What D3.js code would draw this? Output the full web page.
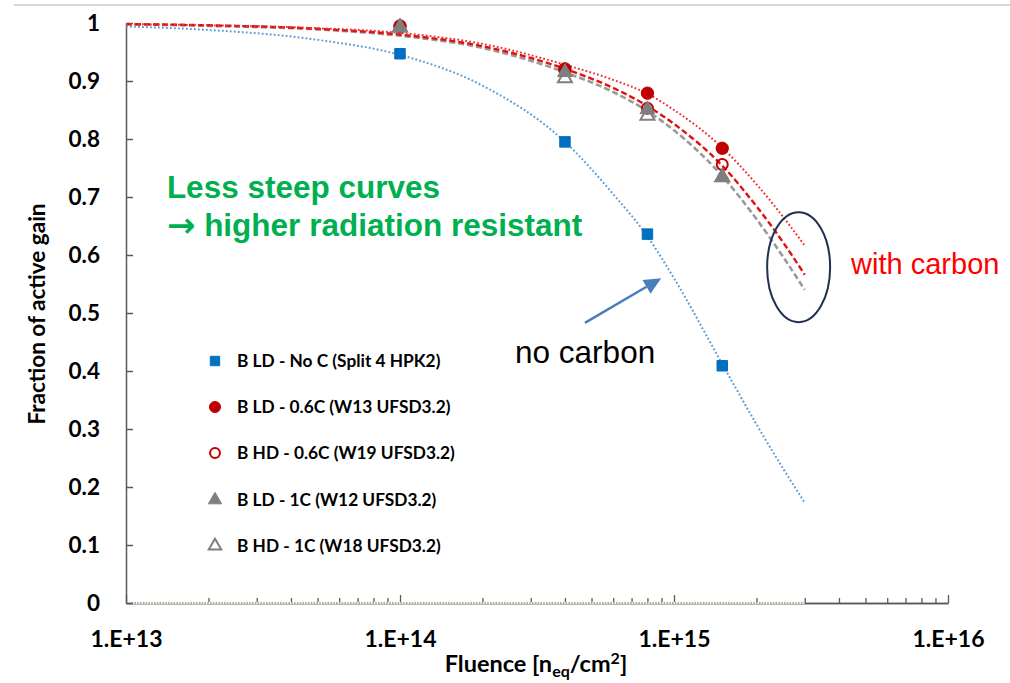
<!DOCTYPE html>
<html>
<head>
<meta charset="utf-8">
<script src="https://cdn.jsdelivr.net/npm/d3@7"></script>
<style>
  html, body { margin: 0; padding: 0; background: #fff; }
  svg { display: block; }
</style>
</head>
<body>
<svg id="chart" width="1010" height="683"></svg>
<script>
// Fluence values where samples were measured
const fluence = [1e14, 4e14, 8e14, 1.5e15];

// Fraction of active gain for each sample
const noC_LD     = [0.947, 0.795, 0.636, 0.409];   // B LD - No C (Split 4 HPK2)
const c06_LD     = [0.995, 0.921, 0.879, 0.784];   // B LD - 0.6C (W13 UFSD3.2)
const c06_HD     = [0.993, 0.918, 0.853, 0.756];   // B HD - 0.6C (W19 UFSD3.2)
const c1_LD      = [0.993, 0.915, 0.851, 0.734];   // B LD - 1C (W12 UFSD3.2)
const c1_HD      = [0.992, 0.905, 0.840, 0.734];   // B HD - 1C (W18 UFSD3.2)

// Trend lines, sampled along the fluence axis
const trendFluence = [1e13, 2e13, 5e13, 1e14, 2e14, 4e14, 6e14, 8e14, 1e15, 1.5e15, 2e15, 2.5e15, 3e15];
const trendNoC     = [0.994, 0.988, 0.971, 0.945, 0.892, 0.795, 0.705, 0.632, 0.560, 0.412, 0.308, 0.232, 0.173];
const trendC06LD   = [0.998, 0.996, 0.991, 0.983, 0.964, 0.928, 0.902, 0.878, 0.850, 0.785, 0.722, 0.666, 0.616];
const trendC06HD   = [0.998, 0.996, 0.990, 0.980, 0.960, 0.921, 0.888, 0.857, 0.826, 0.754, 0.684, 0.622, 0.566];
const trendC1      = [0.998, 0.995, 0.989, 0.978, 0.957, 0.915, 0.881, 0.848, 0.815, 0.736, 0.662, 0.597, 0.540];

// Axis ticks
const xMajorTicks = [1e13, 1e14, 1e15, 1e16];
const xTickLabels = ["1.E+13", "1.E+14", "1.E+15", "1.E+16"];
const yTicks      = [0, 0.1, 0.2, 0.3, 0.4, 0.5, 0.6, 0.7, 0.8, 0.9, 1];
const yTickLabels = ["0", "0.1", "0.2", "0.3", "0.4", "0.5", "0.6", "0.7", "0.8", "0.9", "1"];

const legendLabels = [
  "B LD - No C (Split 4 HPK2)",
  "B LD - 0.6C (W13 UFSD3.2)",
  "B HD - 0.6C (W19 UFSD3.2)",
  "B LD - 1C (W12 UFSD3.2)",
  "B HD - 1C (W18 UFSD3.2)"
];

const svg = d3.select("#chart");
const FONT_AX = "Lato, 'Open Sans', sans-serif";
const FONT_TX = "'Liberation Sans', Arial, sans-serif";

const x = d3.scaleLog().domain([1e13, 1e16]).range([126, 948]);
const y = d3.scaleLinear().domain([0, 1]).range([603, 23]);

// thin rule across the top of the slide
svg.append("line")
  .attr("x1", 14).attr("x2", 1010).attr("y1", 5).attr("y2", 5)
  .attr("stroke", "#c8c8c8").attr("stroke-width", 1.5);

// ---- axes ----
const minorTicks = [];
for (let e = 13; e < 16; e++) for (let m = 2; m <= 9; m++) minorTicks.push(m * Math.pow(10, e));

const xMinor = svg.append("g").attr("transform", `translate(0,${y(0)})`)
  .call(d3.axisBottom(x).tickValues(minorTicks).tickSizeInner(-5).tickSizeOuter(0).tickFormat(""));
const xMajor = svg.append("g").attr("transform", `translate(0,${y(0)})`)
  .call(d3.axisBottom(x).tickValues(xMajorTicks).tickSizeInner(-8).tickSizeOuter(0).tickPadding(28)
    .tickFormat((d, i) => xTickLabels[i]));
[xMinor, xMajor].forEach(g => {
  g.selectAll("path, line").attr("stroke", "#595959").attr("stroke-width", 1.3);
});
xMajor.selectAll("text")
  .attr("font-family", FONT_AX).attr("font-weight", 700).attr("font-size", 23).attr("fill", "#000");

// zero-level trend drawn over the horizontal axis
svg.append("line")
  .attr("x1", x(1e13)).attr("x2", x(3e15)).attr("y1", y(0)).attr("y2", y(0))
  .attr("stroke", "#fff").attr("stroke-width", 2.2);
svg.append("line")
  .attr("x1", x(1e13)).attr("x2", x(3e15)).attr("y1", y(0)).attr("y2", y(0))
  .attr("stroke", "#8c956a").attr("stroke-width", 1.6).attr("stroke-dasharray", "1.6,1.2");

const yAxis = svg.append("g").attr("transform", `translate(${x(1e13)},0)`)
  .call(d3.axisLeft(y).tickValues(yTicks).tickSizeInner(-7).tickSizeOuter(0).tickPadding(26)
    .tickFormat((d, i) => yTickLabels[i]));
yAxis.selectAll("path, line").attr("stroke", "#595959").attr("stroke-width", 1.5);
yAxis.selectAll("text")
  .attr("font-family", FONT_AX).attr("font-weight", 700).attr("font-size", 22.5).attr("fill", "#000");

// axis titles
svg.append("text")
  .attr("transform", `translate(45,${y(0.5) + 1}) rotate(-90)`)
  .attr("text-anchor", "middle")
  .attr("font-family", FONT_AX).attr("font-weight", 700).attr("font-size", 22.5)
  .text("Fraction of active gain");

const xt = svg.append("text")
  .attr("x", 536).attr("y", 672).attr("text-anchor", "middle")
  .attr("font-family", FONT_AX).attr("font-weight", 700).attr("font-size", 23.5);
xt.append("tspan").text("Fluence [n");
xt.append("tspan").attr("font-size", 16).attr("dy", 5).text("eq");
xt.append("tspan").attr("dy", -5).text("/cm");
xt.append("tspan").attr("font-size", 16).attr("dy", -8).text("2");
xt.append("tspan").attr("dy", 8).text("]");

// ---- trend lines ----
const lineGen = d3.line().x(d => x(d[0])).y(d => y(d[1])).curve(d3.curveMonotoneX);
const trends = [
  { vals: trendNoC,   color: "#5b9bd5", dash: "1.8,2.2", w: 2 },
  { vals: trendC1,    color: "#9a9a9a", dash: "6,3",     w: 2.6 },
  { vals: trendC06HD, color: "#e01010", dash: "6,3",     w: 2.4 },
  { vals: trendC06LD, color: "#f03030", dash: "1.8,2.2", w: 2 }
];
trends.forEach(t => {
  svg.append("path")
    .datum(trendFluence.map((f, i) => [f, t.vals[i]]))
    .attr("d", lineGen)
    .attr("fill", "none")
    .attr("stroke", t.color)
    .attr("stroke-width", t.w)
    .attr("stroke-dasharray", t.dash);
});

// ---- markers (open markers are hollow, so what lies beneath shows through) ----
const BLUE = "#0070c0", RED = "#c00000", GRAY = "#7f7f7f";
const series = [
  { vals: noC_LD, shape: d3.symbolSquare,   fill: BLUE,   stroke: BLUE, size: 110, open: false },
  { vals: c06_LD, shape: d3.symbolCircle,   fill: RED,    stroke: RED,  size: 120, open: false },
  { vals: c06_HD, shape: d3.symbolCircle,   fill: "none", stroke: RED,  size: 95,  open: true  },
  { vals: c1_LD,  shape: d3.symbolTriangle, fill: GRAY,   stroke: GRAY, size: 95,  open: false },
  { vals: c1_HD,  shape: d3.symbolTriangle, fill: "none", stroke: GRAY, size: 85,  open: true  }
];
series.forEach(s => {
  svg.append("g").selectAll("path")
    .data(fluence.map((f, i) => [f, s.vals[i]]))
    .join("path")
    .attr("transform", d => `translate(${x(d[0])},${y(d[1])})`)
    .attr("d", d3.symbol().type(s.shape).size(s.size))
    .attr("fill", s.fill)
    .attr("stroke", s.stroke)
    .attr("stroke-width", s.open ? 2 : 1);
});

// ---- legend ----
const legendRows = [361, 407, 453, 500, 546];
const legend = svg.append("g");
series.forEach((s, i) => {
  legend.append("path")
    .attr("transform", `translate(215,${legendRows[i]})`)
    .attr("d", d3.symbol().type(s.shape).size(s.size * 0.8))
    .attr("fill", s.fill).attr("stroke", s.stroke)
    .attr("stroke-width", s.open ? 2 : 1);
  legend.append("text")
    .attr("x", 237).attr("y", legendRows[i] + 6)
    .attr("font-family", FONT_AX).attr("font-weight", 700).attr("font-size", 17.3)
    .text(legendLabels[i]);
});

// ---- annotations ----
svg.append("text")
  .attr("x", x(1.41e13)).attr("y", y(0.698))
  .attr("font-family", FONT_TX).attr("font-weight", 700).attr("font-size", 31.5)
  .attr("fill", "#00b050").text("Less steep curves");
const line2 = svg.append("text")
  .attr("x", x(1.41e13)).attr("y", y(0.633))
  .attr("font-family", FONT_TX).attr("font-weight", 700).attr("font-size", 31.5)
  .attr("fill", "#00b050");
line2.append("tspan")
  .attr("font-family", "'DejaVu Sans', sans-serif").attr("font-size", 34).attr("dy", 1)
  .text("\u2192");
line2.append("tspan").attr("dy", -1).text(" higher radiation resistant");

svg.append("text")
  .attr("x", x(4.43e15)).attr("y", y(0.567))
  .attr("font-family", FONT_TX).attr("font-size", 29)
  .attr("fill", "#ff0000").text("with carbon");

svg.append("text")
  .attr("x", x(2.63e14)).attr("y", y(0.414))
  .attr("font-family", FONT_TX).attr("font-size", 31.5)
  .attr("fill", "#000").text("no carbon");

// ellipse around the high-fluence ends of the carbon trends
svg.append("ellipse")
  .attr("cx", x(2.85e15)).attr("cy", y(0.579))
  .attr("rx", 31.5).attr("ry", 55)
  .attr("fill", "none").attr("stroke", "#1f3050").attr("stroke-width", 2);

// arrow pointing at the no-carbon trend
const ax0 = x(4.73e14), ay0 = y(0.483), ax1 = x(8.98e14), ay1 = y(0.560);
const ang = Math.atan2(ay1 - ay0, ax1 - ax0);
const headLen = 17, headHalf = 8;
const bx = ax1 - headLen * Math.cos(ang), by = ay1 - headLen * Math.sin(ang);
svg.append("line")
  .attr("x1", ax0).attr("y1", ay0).attr("x2", bx).attr("y2", by)
  .attr("stroke", "#4a7ebb").attr("stroke-width", 2.5);
svg.append("path")
  .attr("d", d3.line()([
    [ax1, ay1],
    [bx + headHalf * Math.sin(ang), by - headHalf * Math.cos(ang)],
    [bx - headHalf * Math.sin(ang), by + headHalf * Math.cos(ang)]
  ]) + "Z")
  .attr("fill", "#4a7ebb");
</script>
</body>
</html>
